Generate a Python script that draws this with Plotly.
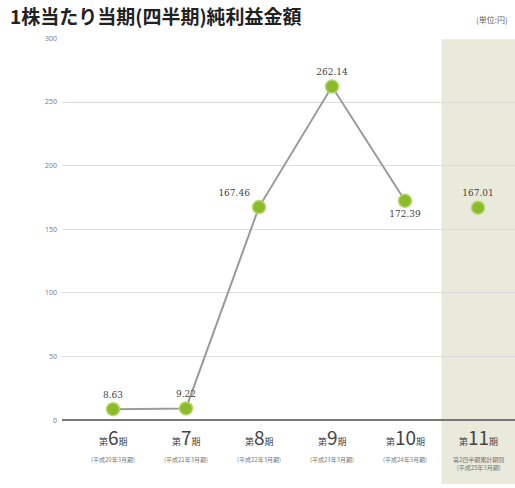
import plotly.graph_objects as go

periods = ["6", "7", "8", "9", "10", "11"]
sub_labels = ["(平成20年3月期)", "(平成21年3月期)", "(平成22年3月期)",
              "(平成23年3月期)", "(平成24年3月期)", "第2四半期累計期間<br>(平成25年3月期)"]
values = [8.63, 9.22, 167.46, 262.14, 172.39, 167.01]
value_labels = ["8.63", "9.22", "167.46", "262.14", "172.39", "167.01"]
label_pos = ["top center", "top center", "top left", "top center", "bottom center", "top center"]
y_ticks = [0, 50, 100, 150, 200, 250, 300]

W, H = 515, 488
def px(x): return x / W
def py(y): return 1 - y / H

xs = list(range(len(periods)))
green = "#8cbb2a"

fig = go.Figure()
# connecting line for actual results (periods 6-10)
fig.add_trace(go.Scatter(
    x=xs[:5], y=values[:5], mode="lines",
    line=dict(color="#9a9a9a", width=2), hoverinfo="skip", showlegend=False))
fig.add_trace(go.Scatter(
    x=xs, y=values, mode="markers+text",
    marker=dict(color=green, size=13, line=dict(color="#b5d86a", width=1.5)),
    text=value_labels, textposition=label_pos,
    textfont=dict(size=9, color="#444", family="DejaVu Serif"),
    cliponaxis=False, showlegend=False))

x0 = 62
fig.update_layout(
    width=W, height=H, margin=dict(l=0, r=0, t=0, b=0),
    paper_bgcolor="white", plot_bgcolor="white",
    xaxis=dict(domain=[px(x0), 1], range=[(x0 - 113) / 73, (515 - 113) / 73],
               showgrid=False, showticklabels=False, zeroline=False, fixedrange=True),
    yaxis=dict(domain=[py(423), py(34)], range=[0, 300], tickvals=y_ticks,
               ticktext=[str(v) for v in y_ticks],
               tickfont=dict(size=7, color="#777"), ticks="", ticklabelstandoff=4,
               showgrid=True, gridcolor="#dcdcdc", gridwidth=1,
               zeroline=True, zerolinecolor="#777", zerolinewidth=1.5),
    shapes=[dict(type="rect", xref="x", yref="paper", x0=4.5, x1=(515 - 113) / 73,
                 y0=0, y1=py(35), fillcolor="#e9e9dc", line=dict(width=0), layer="below")],
)

ann = []
ann.append(dict(text="<b>1株当たり当期(四半期)純利益金額</b>", xref="paper", yref="paper",
                x=px(8), y=py(11), xanchor="left", yanchor="middle", showarrow=False,
                font=dict(size=19, color="#222", family="Noto Sans CJK JP")))
ann.append(dict(text="(単位:円)", xref="paper", yref="paper", x=px(510), y=py(15),
                xanchor="right", yanchor="middle", showarrow=False,
                font=dict(size=8, color="#666", family="Noto Sans CJK JP")))
for i, p in enumerate(periods):
    ann.append(dict(text=f"第<span style='font-size:19px'>{p}</span>期", xref="x", yref="paper",
                    x=i, y=py(440), xanchor="center", yanchor="middle", showarrow=False,
                    font=dict(size=9, color="#444", family="Noto Sans CJK JP")))
    ann.append(dict(text=sub_labels[i], xref="x", yref="paper",
                    x=i, y=py(456), xanchor="center", yanchor="top", showarrow=False,
                    font=dict(size=6, color="#777", family="Noto Sans CJK JP")))
fig.update_layout(annotations=ann)

fig.write_html("out.html")
